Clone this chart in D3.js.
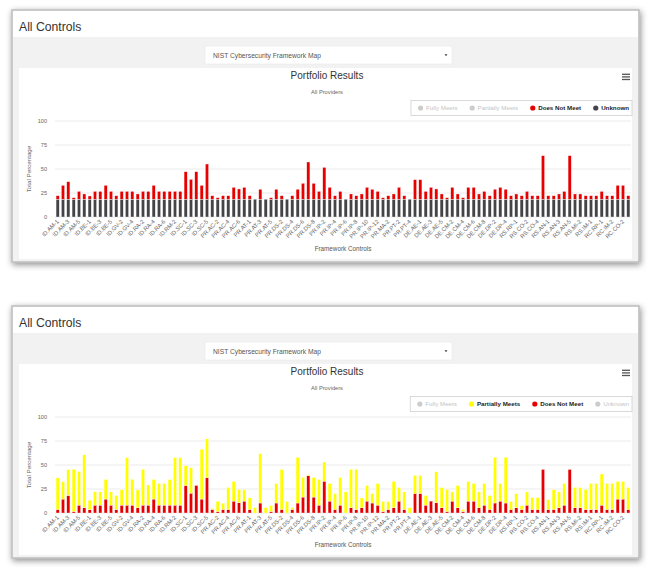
<!DOCTYPE html>
<html><head><meta charset="utf-8">
<script src="https://cdn.jsdelivr.net/npm/d3@7/dist/d3.min.js"></script>
<style>
html,body{margin:0;padding:0;background:#fff;}
svg{display:block;font-family:"Liberation Sans",Arial,sans-serif;}
</style></head><body>
<svg id="c" width="650" height="569"></svg>
<script>
const categories = [
"ID.AM-1","ID.AM-2","ID.AM-3","ID.AM-4","ID.AM-5","ID.AM-6",
"ID.BE-1","ID.BE-2","ID.BE-3","ID.BE-4","ID.BE-5",
"ID.GV-1","ID.GV-2","ID.GV-3","ID.GV-4",
"ID.RA-1","ID.RA-2","ID.RA-3","ID.RA-4","ID.RA-5","ID.RA-6",
"ID.RM-1","ID.RM-2","ID.RM-3",
"ID.SC-1","ID.SC-2","ID.SC-3","ID.SC-4","ID.SC-5",
"PR.AC-1","PR.AC-2","PR.AC-3","PR.AC-4","PR.AC-5","PR.AC-6","PR.AC-7",
"PR.AT-1","PR.AT-2","PR.AT-3","PR.AT-4","PR.AT-5",
"PR.DS-1","PR.DS-2","PR.DS-3","PR.DS-4","PR.DS-5","PR.DS-6","PR.DS-7","PR.DS-8",
"PR.IP-1","PR.IP-2","PR.IP-3","PR.IP-4","PR.IP-5","PR.IP-6","PR.IP-7","PR.IP-8","PR.IP-9","PR.IP-10","PR.IP-11","PR.IP-12",
"PR.MA-1","PR.MA-2",
"PR.PT-1","PR.PT-2","PR.PT-3","PR.PT-4","PR.PT-5",
"DE.AE-1","DE.AE-2","DE.AE-3","DE.AE-4","DE.AE-5",
"DE.CM-1","DE.CM-2","DE.CM-3","DE.CM-4","DE.CM-5","DE.CM-6","DE.CM-7","DE.CM-8",
"DE.DP-1","DE.DP-2","DE.DP-3","DE.DP-4","DE.DP-5",
"RS.RP-1",
"RS.CO-1","RS.CO-2","RS.CO-3","RS.CO-4","RS.CO-5",
"RS.AN-1","RS.AN-2","RS.AN-3","RS.AN-4","RS.AN-5",
"RS.MI-1","RS.MI-2","RS.MI-3",
"RS.IM-1","RS.IM-2",
"RC.RP-1",
"RC.IM-1","RC.IM-2",
"RC.CO-1","RC.CO-2","RC.CO-3"
];

const unknownValues = [
18.5,18.5,18.5,18.5,18.5,18.5, 18.5,18.5,18.5,18.5,18.5, 18.5,18.5,18.5,18.5,
18.5,18.5,18.5,18.5,18.5,18.5, 18.5,18.5,18.5, 18.5,18.5,18.5,18.5,18.5,
18.5,18.5,18.5,18.5,18.5,18.5,18.5, 18.5,18.5,18.5,18.5,18.5,
18.5,18.5,18.5,18.5,18.5,18.5,18.5,18.5,
18.5,18.5,18.5,18.5,18.5,18.5,18.5,18.5,18.5,18.5,18.5,18.5,
18.5,18.5, 18.5,18.5,18.5,18.5,18.5, 18.5,18.5,18.5,18.5,18.5,
18.5,18.5,18.5,18.5,18.5,18.5,18.5,18.5, 18.5,18.5,18.5,18.5,18.5,
18.5, 18.5,18.5,18.5,18.5,18.5, 18.5,18.5,18.5,18.5,18.5,
18.5,18.5,18.5, 18.5,18.5, 18.5, 18.5,18.5, 18.5,18.5,18.5
];

const doesNotMeetValues = [
3.7,14.5,18.3,1.6,8.2,5.5,
3.4,8.2,8.2,14.5,8.2,
3.7,8.2,8.2,8.2,
5.5,8.2,8.2,14.5,8.2,8.2,
8.2,8.2,8.2,
28.7,20.7,28.7,14.5,36.7,
3.7,1.6,3.7,3.7,12.4,10.7,12.4,
3.7,0,10.4,0,1.6,
10.4,3.7,0,3.7,10.4,16.6,38.8,16.6,
8.2,33.2,12.4,3.7,8.2,0,5.5,3.7,5.5,12.4,10.4,8.2,
1.6,3.7,
5.5,12.4,3.7,0,20.4,
20.4,8.2,12.4,10.7,5.5,
1.6,12.4,5.5,1.6,12.4,12.4,5.5,8.2,
3.7,10.4,12.4,10.4,3.7,
5.5,
3.7,8.2,3.7,3.7,45.4,
3.7,3.7,5.5,8.2,45.4,
5.5,5.5,3.7,
3.7,3.7,
8.2,
3.7,3.7,
14.5,14.5,3.7
];

const partiallyMeetsValues = [
33,18,27,44,35,55,
10,14,14,20.5,14,
14.5,16,49.5,27,
18.5,37.3,21,20.5,22.6,22.6,
26.8,49.5,49.5,
20.6,26.5,0,52,40.5,
1,10.7,6.5,23,20.5,13.7,12,
12,5.6,51.5,5.6,6.1,
20.4,41.8,12,1.9,47.6,20.5,1,20.5,
26.8,19.9,18.4,16.6,28.9,22,40,41.8,10.2,16.3,9.9,22.6,
10.4,8.3,
27.4,14.2,18.3,5.6,18.8,
18.8,10,0,32.3,21.1,
22.8,9.6,23.2,2.1,20.5,18.4,16.5,22.6,
14.5,47.6,18.4,47.6,8.3,
14.8,
4,13.8,12.4,12.4,0,
10.4,20.7,16.5,22.6,0,
21.1,21.1,20.7,
27.1,27.1,
32.4,
27.1,27.1,
18.4,18.4,22.9
];

const yTicks = [0, 25, 50, 75, 100];
const seriesNames = ["Fully Meets", "Partially Meets", "Does Not Meet", "Unknown"];
const seriesColors = {"Fully Meets":"#3cb44b","Partially Meets":"#ffff00","Does Not Meet":"#e60000","Unknown":"#434348"};
const seriesValues = {"Partially Meets":partiallyMeetsValues,"Does Not Meet":doesNotMeetValues,"Unknown":unknownValues};
const stackOrder = ["Unknown","Does Not Meet","Partially Meets","Fully Meets"]; // bottom to top

const panels = [
  {oy:0, visible:["Does Not Meet","Unknown"]},
  {oy:296, visible:["Partially Meets","Does Not Meet"]}
];

const svg = d3.select("#c");
const defs = svg.append("defs");
const f = defs.append("filter").attr("id","sh").attr("x","-5%").attr("y","-10%").attr("width","110%").attr("height","125%");
f.append("feDropShadow").attr("dx",1).attr("dy",2).attr("stdDeviation",3).attr("flood-color","#000").attr("flood-opacity",0.45);

const table = categories.map((c,i)=>{
  const r = {cat:c};
  Object.keys(seriesValues).forEach(k=>r[k]=seriesValues[k][i]);
  return r;
});

const x = d3.scaleBand().domain(categories).range([55,631]).paddingInner(0.4).paddingOuter(0.2);

panels.forEach(p=>{
  const g = svg.append("g").attr("transform",`translate(0,${p.oy})`);
  // panel
  g.append("rect").attr("x",12).attr("y",10).attr("width",627).attr("height",252)
    .attr("fill","#f2f2f2").attr("stroke","#bdbdbd").attr("stroke-width",1.5).attr("filter","url(#sh)");
  g.append("rect").attr("x",13).attr("y",11).attr("width",625).attr("height",26).attr("fill","#fff");
  g.append("text").attr("x",19).attr("y",30.5).attr("font-size",12.2).attr("fill","#333").text("All Controls");
  // dropdown
  g.append("rect").attr("x",205).attr("y",46).attr("width",247).attr("height",18).attr("fill","#fff").attr("stroke","#e6e6e6").attr("stroke-width",0.6);
  g.append("text").attr("x",213).attr("y",57.5).attr("font-size",6.7).attr("fill","#555").text("NIST Cybersecurity Framework Map");
  g.append("path").attr("d","M444.5,54.2 L447.5,54.2 L446,56.2 Z").attr("fill","#444");
  // chart area
  g.append("rect").attr("x",19).attr("y",68).attr("width",613).attr("height",191).attr("fill","#fff");
  g.append("text").attr("x",327).attr("y",78.5).attr("text-anchor","middle").attr("font-size",10).attr("fill","#333").text("Portfolio Results");
  g.append("text").attr("x",327).attr("y",94).attr("text-anchor","middle").attr("font-size",5.7).attr("fill","#666").text("All Providers");
  [74.3,76.9,79.5].forEach(yy=>g.append("line").attr("x1",622).attr("x2",630).attr("y1",yy).attr("y2",yy).attr("stroke","#555").attr("stroke-width",1.3));

  // legend
  const lg = g.append("g");
  const box = lg.append("rect").attr("y",100.5).attr("height",15).attr("fill","#fff").attr("stroke","#d0d0d0").attr("stroke-width",0.8);
  let lx = 0;
  const items = [];
  seriesNames.forEach(n=>{
    const vis = p.visible.includes(n);
    const it = lg.append("g");
    it.append("circle").attr("cx",lx+2.6).attr("cy",108).attr("r",2.6).attr("fill",vis?seriesColors[n]:"#cccccc");
    const t = it.append("text").attr("x",lx+8).attr("y",110.1).attr("font-size",6.2)
      .attr("font-weight",vis?"bold":"normal").attr("fill",vis?"#222":"#c4c4c4").text(n);
    lx += 8 + t.node().getComputedTextLength() + 12;
  });
  const lw = lx - 12;
  const lx0 = 629 - lw;
  lg.selectAll("g").attr("transform",`translate(${lx0},0)`);
  box.attr("x",lx0-7).attr("width",lw+10);

  // axes
  const y = d3.scaleLinear().domain([0,100]).range([217,121]);
  yTicks.forEach(t=>{
    g.append("line").attr("x1",55).attr("x2",631).attr("y1",y(t)).attr("y2",y(t)).attr("stroke","#e6e6e6").attr("stroke-width",0.8);
    g.append("text").attr("x",47).attr("y",y(t)+2).attr("text-anchor","end").attr("font-size",5.6).attr("fill","#666").text(t);
  });
  g.append("text").attr("transform",`translate(31,169) rotate(-90)`).attr("text-anchor","middle").attr("font-size",6.2).attr("fill","#666").text("Total Percentage");
  g.append("text").attr("x",343).attr("y",251).attr("text-anchor","middle").attr("font-size",6.3).attr("fill","#555").text("Framework Controls");

  // bars
  const keys = stackOrder.filter(k=>p.visible.includes(k) && seriesValues[k]);
  const stacked = d3.stack().keys(keys)(table);
  stacked.forEach(layer=>{
    g.append("g").selectAll("rect").data(layer).join("rect")
      .attr("x",d=>x(d.data.cat)).attr("width",x.bandwidth())
      .attr("y",d=>y(d[1])).attr("height",d=>Math.max(0,y(d[0])-y(d[1])))
      .attr("fill",seriesColors[layer.key]).attr("stroke","#fff").attr("stroke-width",0.35);
  });

  // x labels
  g.append("g").selectAll("text").data(categories.filter((c,i)=>i%2===0)).join("text")
    .attr("transform",d=>`translate(${x(d)+x.bandwidth()/2+1.5},222) rotate(-45)`)
    .attr("text-anchor","end").attr("font-size",5.8).attr("fill","#666").text(d=>d);
});
</script>
</body></html>
